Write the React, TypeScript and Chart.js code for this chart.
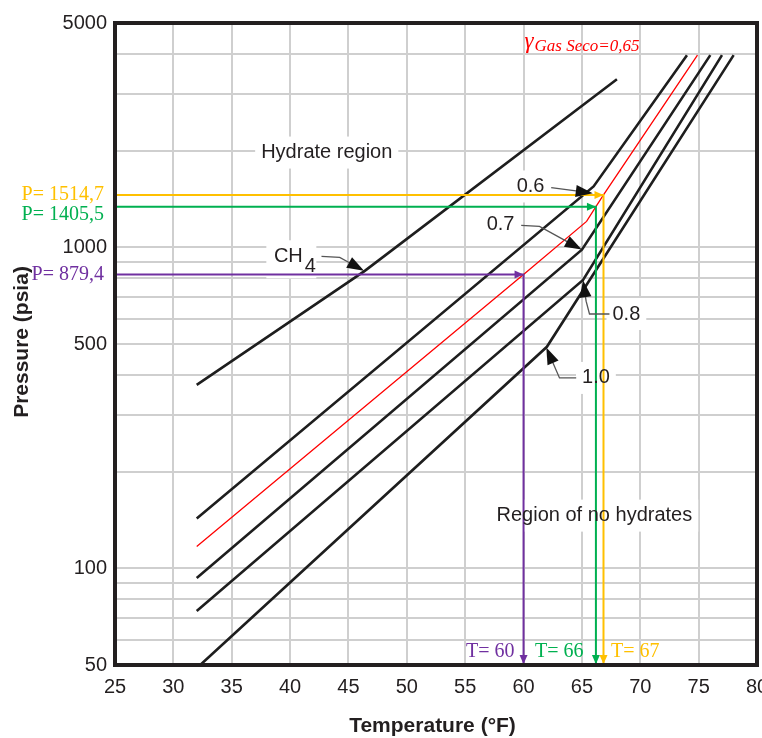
import React, { useEffect, useRef } from 'react';
import { Chart, registerables } from 'chart.js';
Chart.register(...registerables);

// ---------- data ----------
const xMin = 25;
const xMax = 80;
const xStep = 5;
const yMin = 50;
const yMax = 5000;
const yGridValues = [50, 60, 70, 80, 90, 100, 200, 300, 400, 500, 600, 700, 800, 900, 1000, 2000, 3000, 4000, 5000];
const yLabeledTicks = [50, 100, 500, 1000, 5000];

// hydrate-formation curves (temperature °F, pressure psia)
const ch4T = [32, 46.4, 68];
const ch4P = [373, 845, 3342];
const g06T = [32, 66, 74];
const g06P = [143, 1548, 3970];
const g065T = [32, 60, 65.4, 66.2, 66.85, 74.9];
const g065P = [117, 823, 1205, 1339, 1457, 3970];
const g07T = [32, 65, 76];
const g07P = [93.3, 984, 3970];
const g08T = [32, 65.1, 77];
const g08P = [73.7, 792, 3970];
const g10T = [32.3, 62, 78];
const g10P = [50, 490, 3970];

// read-off lines
const readT = [60, 66.2, 66.85];
const readP = [823, 1339, 1457];
const readPLabels = ['P= 879,4', 'P= 1405,5', 'P= 1514,7'];
const readTLabels = ['T= 60', 'T= 66', 'T= 67'];
const readColors = ['#7030A0', '#00B050', '#FFC000'];

// ---------- annotation config (data coordinates) ----------
const boxTexts = [
  { text: 'Hydrate region', T: 43.14, P: 1974 },
  { text: '0.6', T: 60.6, P: 1548 },
  { text: '0.7', T: 58.03, P: 1179 },
  { text: '0.8', T: 68.81, P: 620 },
  { text: '1.0', T: 66.2, P: 392 },
  { text: 'Region of no hydrates', T: 66.07, P: 146 },
];
const ch4Label = { T: 39.85, P: 938 };
const leaders = [
  [[62.37, 1535], [65.93, 1475]],
  [[59.8, 1171], [61.37, 1163], [64.98, 984]],
  [[42.69, 938], [44.25, 931], [46.33, 845]],
  [[67.36, 620], [65.65, 620], [65.36, 680], [65.1, 790]],
  [[64.51, 392], [63.08, 392], [61.95, 488]],
];
const pLabelP = [823, 1267, 1457];
const tLabelPos = [
  { T: 59.23, align: 'right' },
  { T: 65.13, align: 'right' },
  { T: 67.5, align: 'left' },
];
const tLabelP = 54.9;
const gammaPos = { T: 60.08, P: 4241 };

const SANS = '"Liberation Sans", Arial, Helvetica, sans-serif';
const SERIF = '"Liberation Serif", "Times New Roman", serif';
const INK = '#231f20';

function arrowHead(ctx: CanvasRenderingContext2D, fx: number, fy: number, tx: number, ty: number, len: number, hw: number, color: string) {
  const a = Math.atan2(ty - fy, tx - fx);
  const bx = tx - len * Math.cos(a);
  const by = ty - len * Math.sin(a);
  ctx.save();
  ctx.fillStyle = color;
  ctx.beginPath();
  ctx.moveTo(tx, ty);
  ctx.lineTo(bx + hw * Math.sin(a), by - hw * Math.cos(a));
  ctx.lineTo(bx - hw * Math.sin(a), by + hw * Math.cos(a));
  ctx.closePath();
  ctx.fill();
  ctx.restore();
}

const annotPlugin = {
  id: 'annot',
  beforeDatasetsDraw(chart: any) {
    const ctx: CanvasRenderingContext2D = chart.ctx;
    const sx = chart.scales.x, sy = chart.scales.y;
    ctx.save();
    ctx.font = `20px ${SANS}`;
    ctx.fillStyle = '#ffffff';
    for (const b of boxTexts) {
      const w = ctx.measureText(b.text).width;
      const cx = sx.getPixelForValue(b.T), cy = sy.getPixelForValue(b.P);
      ctx.fillRect(cx - w / 2 - 6, cy - 16, w + 12, 32);
    }
    const cx = sx.getPixelForValue(ch4Label.T), cy = sy.getPixelForValue(ch4Label.P);
    ctx.fillRect(cx - 22, cy - 16, 50, 38);
    ctx.restore();
  },
  afterDatasetsDraw(chart: any) {
    const ctx: CanvasRenderingContext2D = chart.ctx;
    const sx = chart.scales.x, sy = chart.scales.y;
    const ca = chart.chartArea;
    const X = (t: number) => sx.getPixelForValue(t);
    const Y = (p: number) => sy.getPixelForValue(p);
    ctx.save();

    // arrowheads of read-off lines
    readT.forEach((t, i) => {
      const x = X(t), y = Y(readP[i]);
      arrowHead(ctx, x - 20, y, x, y, 9, 4, readColors[i]);
      arrowHead(ctx, x, ca.bottom - 20, x, ca.bottom - 1, 9, 4, readColors[i]);
    });

    // frame
    ctx.strokeStyle = INK;
    ctx.lineWidth = 4;
    ctx.strokeRect(ca.left, ca.top, ca.right - ca.left, ca.bottom - ca.top);

    // leaders
    for (const l of leaders) {
      const pts = l.map(([t, p]) => [X(t), Y(p)]);
      const n = pts.length;
      const [fx, fy] = pts[n - 2];
      const [tx, ty] = pts[n - 1];
      const a = Math.atan2(ty - fy, tx - fx);
      ctx.strokeStyle = '#555555';
      ctx.lineWidth = 1.3;
      ctx.beginPath();
      ctx.moveTo(pts[0][0], pts[0][1]);
      for (let i = 1; i < n - 1; i++) ctx.lineTo(pts[i][0], pts[i][1]);
      ctx.lineTo(tx - 15 * Math.cos(a), ty - 15 * Math.sin(a));
      ctx.stroke();
      arrowHead(ctx, fx, fy, tx, ty, 17, 6, '#111111');
    }

    // box texts
    ctx.fillStyle = INK;
    ctx.font = `20px ${SANS}`;
    ctx.textAlign = 'center';
    ctx.textBaseline = 'middle';
    for (const b of boxTexts) ctx.fillText(b.text, X(b.T), Y(b.P));
    const chx = X(ch4Label.T), chy = Y(ch4Label.P);
    ctx.fillText('CH', chx, chy);
    ctx.textAlign = 'left';
    ctx.fillText('4', chx + 16.5, chy + 10);

    // gamma label
    const gx = X(gammaPos.T), gy = Y(gammaPos.P);
    ctx.fillStyle = '#ff0000';
    ctx.textBaseline = 'alphabetic';
    ctx.textAlign = 'left';
    ctx.font = `italic 23px ${SERIF}`;
    ctx.fillText('\u03b3', gx, gy + 2);
    const gw = ctx.measureText('\u03b3').width;
    ctx.font = `italic 17px ${SERIF}`;
    ctx.fillText('Gas Seco=0,65', gx + gw + 1, gy + 5);

    // read-off labels
    ctx.font = `20px ${SERIF}`;
    ctx.textBaseline = 'middle';
    ctx.textAlign = 'right';
    readPLabels.forEach((s, i) => {
      ctx.fillStyle = readColors[i];
      ctx.fillText(s, ca.left - 11, Y(pLabelP[i]));
    });
    readTLabels.forEach((s, i) => {
      ctx.fillStyle = readColors[i];
      ctx.textAlign = tLabelPos[i].align as CanvasTextAlign;
      ctx.fillText(s, X(tLabelPos[i].T), Y(tLabelP));
    });

    // axis titles
    ctx.fillStyle = INK;
    ctx.font = `bold 21px ${SANS}`;
    ctx.textAlign = 'center';
    ctx.textBaseline = 'middle';
    ctx.fillText('Temperature (\u00b0F)', 432.5, 726);
    ctx.save();
    ctx.translate(22.5, 342);
    ctx.rotate(-Math.PI / 2);
    ctx.fillText('Pressure (psia)', 0, 0);
    ctx.restore();

    ctx.restore();
  },
};

export default function App() {
  const ref = useRef<HTMLCanvasElement>(null);
  useEffect(() => {
    const canvas = ref.current!;
    const pts = (T: number[], P: number[]) => T.map((t, i) => ({ x: t, y: P[i] }));
    const curve = (data: any[], color: string, width: number) => ({
      data, borderColor: color, borderWidth: width, pointRadius: 0, fill: false, tension: 0,
      borderCapStyle: 'butt', borderJoinStyle: 'miter',
    });
    const refSets = readT.map((t, i) => curve([
      { x: xMin, y: readP[i] }, { x: t, y: readP[i] }, { x: t, y: yMin },
    ], readColors[i], 2));
    const datasets = [
      ...refSets,
      curve(pts(g065T, g065P), '#ff0000', 1.3),
      curve(pts(ch4T, ch4P), '#1e1e1e', 2.6),
      curve(pts(g06T, g06P), '#1e1e1e', 2.6),
      curve(pts(g07T, g07P), '#1e1e1e', 2.6),
      curve(pts(g08T, g08P), '#1e1e1e', 2.6),
      curve(pts(g10T, g10P), '#1e1e1e', 2.6),
    ];
    const chart = new Chart(canvas, {
      type: 'line',
      data: { datasets } as any,
      options: {
        animation: false,
        responsive: false,
        devicePixelRatio: 1,
        layout: { padding: { top: 23, right: 5, left: 0, bottom: 0 } },
        plugins: { legend: { display: false }, tooltip: { enabled: false }, title: { display: false } },
        scales: {
          x: {
            type: 'linear', min: xMin, max: xMax,
            ticks: { stepSize: xStep, color: INK, font: { family: SANS, size: 20 }, padding: 10, maxRotation: 0, autoSkip: false },
            grid: { color: '#cfcfcf', lineWidth: 2, drawTicks: false },
            border: { display: false },
            afterFit: (s: any) => { s.height = 73; s.paddingLeft = 0; s.paddingRight = 0; },
          },
          y: {
            type: 'logarithmic', min: yMin, max: yMax,
            afterBuildTicks: (s: any) => { s.ticks = yGridValues.map(v => ({ value: v })); },
            ticks: {
              autoSkip: false, color: INK, font: { family: SANS, size: 20 }, padding: 8,
              callback: (v: any) => (yLabeledTicks.includes(Number(v)) ? String(v) : ''),
            },
            grid: { color: '#cfcfcf', lineWidth: 2, drawTicks: false },
            border: { display: false },
            afterFit: (s: any) => { s.width = 115; s.paddingTop = 0; s.paddingBottom = 0; },
          },
        },
      } as any,
      plugins: [annotPlugin],
    });
    return () => chart.destroy();
  }, []);
  return (
    <div style={{ position: 'fixed', left: 0, top: 0, width: 762, height: 738, background: '#fff' }}>
      <canvas ref={ref} width={762} height={738} style={{ width: 762, height: 738, display: 'block' }} />
    </div>
  );
}
